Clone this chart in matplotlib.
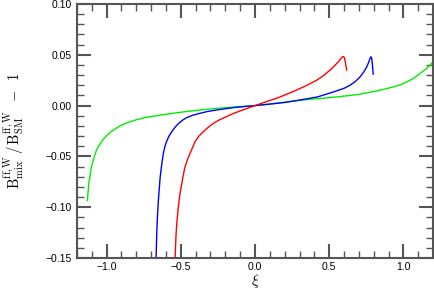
import matplotlib
matplotlib.use("Agg")
import matplotlib.pyplot as plt
from matplotlib.ticker import MultipleLocator

# values
green_x = [-1.13, -1.121, -1.103, -1.085, -1.069, -1.048, -1.024, -1.0, -0.968, -0.91,
           -0.856, -0.80, -0.743, -0.64, -0.55, -0.483, -0.37, -0.258, -0.1, 0.0, 0.1,
           0.2, 0.303, 0.42, 0.55, 0.7, 0.842, 0.95, 1.0, 1.06, 1.112, 1.16, 1.2]
green_y = [-0.0934, -0.077, -0.0605, -0.051, -0.044, -0.0385, -0.0335, -0.0295, -0.0254,
           -0.020, -0.0165, -0.0140, -0.0118, -0.0094, -0.0075, -0.0062, -0.0043, -0.0027,
           -0.0010, 0.0, 0.0015, 0.0033, 0.0052, 0.0068, 0.0085, 0.0110, 0.0151, 0.0190,
           0.0217, 0.026, 0.0316, 0.037, 0.043]

blue_x = [-0.667, -0.662, -0.657, -0.651, -0.645, -0.640, -0.632, -0.625, -0.618, -0.607,
          -0.595, -0.58, -0.561, -0.54, -0.517, -0.49, -0.46, -0.42, -0.371, -0.32, -0.258,
          -0.2, -0.146, -0.07, 0.0, 0.1, 0.2, 0.303, 0.42, 0.528, 0.60, 0.64, 0.675, 0.708,
          0.732, 0.753, 0.766, 0.775, 0.782, 0.787, 0.791, 0.794, 0.797]
blue_y = [-0.151, -0.124, -0.107, -0.0925, -0.081, -0.0715, -0.0615, -0.054, -0.047, -0.040,
          -0.0350, -0.030, -0.0256, -0.0215, -0.0178, -0.0145, -0.0118, -0.0095, -0.0076,
          -0.0058, -0.0043, -0.0031, -0.0020, -0.0009, 0.0, 0.0015, 0.0031, 0.0055, 0.0085,
          0.0134, 0.0170, 0.0200, 0.0235, 0.0282, 0.0328, 0.038, 0.0425, 0.0463, 0.0481,
          0.0465, 0.041, 0.036, 0.031]

red_x = [-0.539, -0.532, -0.525, -0.517, -0.506, -0.494, -0.483, -0.472, -0.455, -0.438,
         -0.42, -0.404, -0.378, -0.348, -0.315, -0.281, -0.24, -0.191, -0.15, -0.101,
         -0.05, 0.0, 0.05, 0.1, 0.16, 0.213, 0.26, 0.303, 0.36, 0.416, 0.46, 0.505, 0.535,
         0.561, 0.575, 0.584, 0.592, 0.598, 0.604, 0.61, 0.615, 0.618]
red_y = [-0.151, -0.126, -0.112, -0.100, -0.087, -0.077, -0.068, -0.0605, -0.053, -0.047,
         -0.041, -0.0355, -0.030, -0.0256, -0.0213, -0.0175, -0.0140, -0.0108, -0.0080,
         -0.0053, -0.0026, 0.0, 0.0025, 0.0050, 0.0080, 0.0112, 0.0140, 0.0168, 0.0207,
         0.0250, 0.0293, 0.0348, 0.039, 0.043, 0.0455, 0.0473, 0.0482, 0.0482, 0.0465, 0.042,
         0.0375, 0.035]

plt.rcParams["font.family"] = ["Liberation Sans", "DejaVu Sans"]
plt.rcParams["mathtext.fontset"] = "cm"

fig = plt.figure(figsize=(4.34, 2.94), dpi=100)
ax = fig.add_axes([77 / 434, 1 - 258 / 294, 356 / 434, 254 / 294])

ax.plot(green_x, green_y, color="#00ee00", lw=1.0)
ax.plot(blue_x, blue_y, color="#0000ff", lw=1.0)
ax.plot(red_x, red_y, color="#ff0000", lw=1.0)

ax.set_xlim(-1.2, 1.2)
ax.set_ylim(-0.15, 0.10)
ax.xaxis.set_major_locator(MultipleLocator(0.5))
ax.xaxis.set_minor_locator(MultipleLocator(0.1))
ax.yaxis.set_major_locator(MultipleLocator(0.05))
ax.yaxis.set_minor_locator(MultipleLocator(0.01))
ax.xaxis.set_major_formatter(lambda v, p: f"{v:.1f}".replace("-", "\u2212"))
ax.yaxis.set_major_formatter(lambda v, p: f"{v:.2f}".replace("-", "\u2212"))

spine_col = "#555555"
for s in ax.spines.values():
    s.set_color(spine_col)
    s.set_linewidth(1.5)
ax.tick_params(which="both", direction="in", top=True, right=True,
               color=spine_col, labelsize=7.5, labelcolor="black")
ax.tick_params(which="major", length=10, width=1.5, pad=4)
ax.tick_params(axis="x", which="major", pad=3)
ax.tick_params(which="minor", length=5, width=1.0)

ax.set_xlabel(r"$\xi$", fontsize=11, labelpad=0)
ax.set_ylabel(r"$\mathrm{B}_{\mathrm{mix}}^{\mathrm{ff,W}}\,/\,\mathrm{B}_{\mathrm{SM}}^{\mathrm{ff,W}}\;\;-\;\;1$",
              fontsize=10.5, labelpad=14)

fig.savefig("out.png", dpi=100)
